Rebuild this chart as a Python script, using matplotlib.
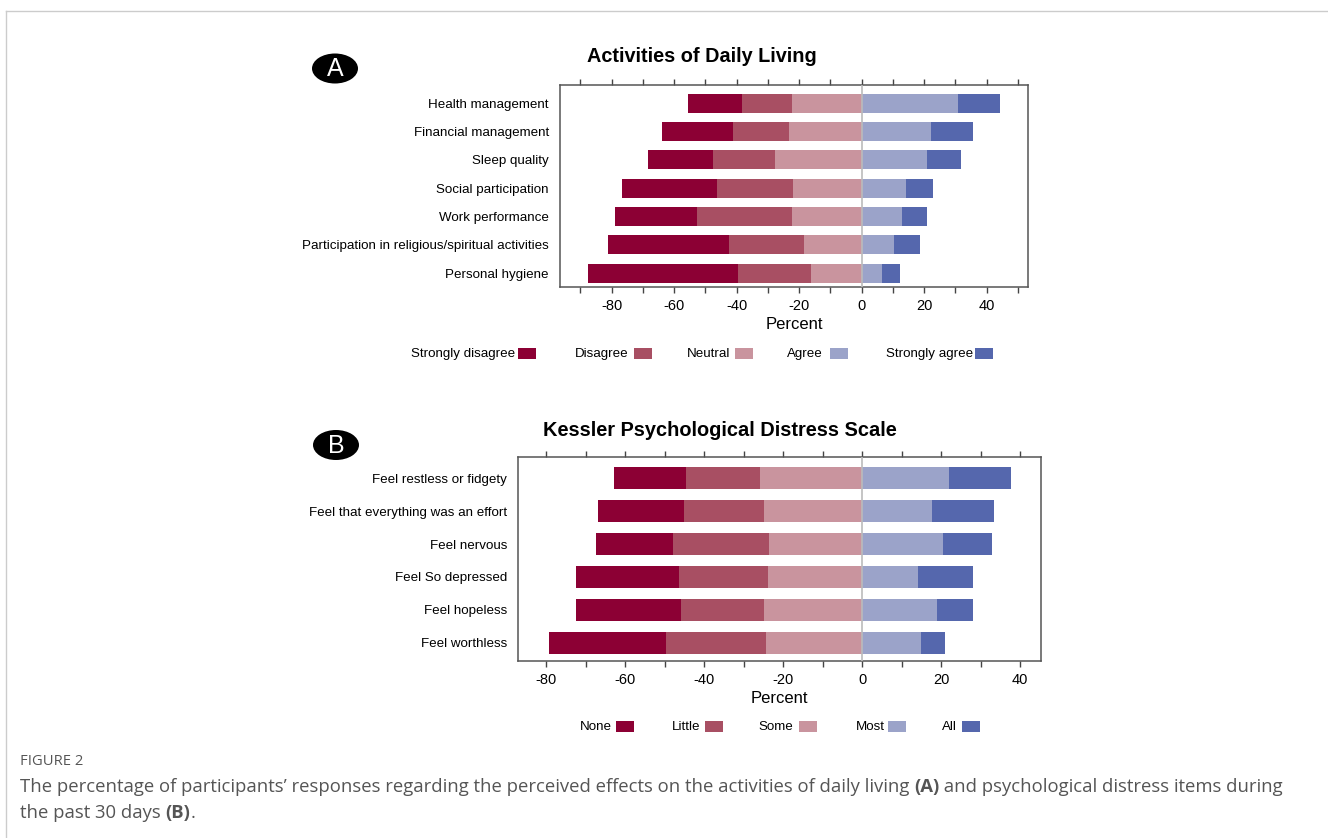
import matplotlib
matplotlib.use("Agg")
import matplotlib.pyplot as plt
from matplotlib.patches import Ellipse, Rectangle
from matplotlib.lines import Line2D
import numpy as np

plt.rcParams['font.family'] = ['Liberation Sans', 'DejaVu Sans']

# ---------------- data ----------------
adl_items = ["Health management", "Financial management", "Sleep quality",
             "Social participation", "Work performance",
             "Participation in religious/spiritual activities", "Personal hygiene"]
adl_levels = ["Strongly disagree", "Disagree", "Neutral", "Agree", "Strongly agree"]
adl_strongly_disagree = [17.3, 22.7, 20.7, 30.2, 26.2, 39.0, 47.8]
adl_disagree          = [16.0, 18.0, 19.9, 24.5, 30.6, 23.8, 23.5]
adl_neutral           = [22.2, 23.3, 27.6, 21.9, 22.2, 18.5, 16.2]
adl_agree             = [30.7, 22.2, 20.9, 14.1, 13.0, 10.3, 6.6]
adl_strongly_agree    = [13.6, 13.5, 10.9, 8.7, 7.9, 8.2, 5.8]

k_items = ["Feel restless or fidgety", "Feel that everything was an effort",
           "Feel nervous", "Feel So depressed", "Feel hopeless", "Feel worthless"]
k_levels = ["None", "Little", "Some", "Most", "All"]
k_none   = [18.3, 21.9, 19.5, 25.9, 26.5, 29.7]
k_little = [18.7, 20.2, 24.3, 22.5, 21.0, 25.4]
k_some   = [25.8, 24.8, 23.6, 23.9, 24.8, 24.2]
k_most   = [21.9, 17.6, 20.5, 14.1, 19.0, 14.8]
k_all    = [15.7, 15.9, 12.5, 14.0, 9.1, 6.2]

colors = ["#8C0034", "#A84F63", "#C9949E", "#9BA3C9", "#5567AD"]

W, H = 1328, 838
fig = plt.figure(figsize=(W / 100, H / 100), dpi=100)
renderer = fig.canvas.get_renderer()

LBL = 9.6   # label font size


def px_axes(left, top, right, bottom):
    return fig.add_axes([left / W, 1 - bottom / H, (right - left) / W, (bottom - top) / H])


def likert(ax, items, neg, pos, xlim, ticks, ylim):
    y = np.arange(len(items))
    h = 0.67
    n_sd, n_d, n_n = [np.array(v) for v in neg]
    ax.barh(y, -n_n, left=0, height=h, color=colors[2], linewidth=0)
    ax.barh(y, -n_d, left=-n_n, height=h, color=colors[1], linewidth=0)
    ax.barh(y, -n_sd, left=-(n_n + n_d), height=h, color=colors[0], linewidth=0)
    p_a, p_sa = [np.array(v) for v in pos]
    ax.barh(y, p_a, left=0, height=h, color=colors[3], linewidth=0)
    ax.barh(y, p_sa, left=p_a, height=h, color=colors[4], linewidth=0)
    ax.axvline(0, color="#bbbbbb", lw=1.2, zorder=3)
    ax.set_xlim(*xlim)
    ax.set_ylim(*ylim)
    ax.set_yticks(y)
    ax.set_yticklabels(items, fontsize=LBL)
    ax.tick_params(axis="y", length=0, pad=8)
    ax.set_xticks(ticks)
    ax.set_xticklabels([str(t) if t % 20 == 0 else "" for t in ticks], fontsize=10.5)
    ax.tick_params(axis="x", direction="out", length=4.5, width=1, color="#444444",
                   top=True, bottom=True, labeltop=False, pad=4)
    for s in ax.spines.values():
        s.set_color("#555555")
        s.set_linewidth(1.1)
    ax.set_xlabel("Percent", fontsize=12, labelpad=3)


def fit_text(x, y, s, target_w, size, **kw):
    t = fig.text(x, y, s, fontsize=size, **kw)
    w = t.get_window_extent(renderer).width
    t.set_fontsize(size * target_w / w)
    return t


# ---------- Panel A ----------
axA = px_axes(560, 85, 1028, 287)
likert(axA, adl_items,
       (adl_strongly_disagree, adl_disagree, adl_neutral),
       (adl_agree, adl_strongly_agree),
       (-96.5, 53.2), list(range(-90, 51, 10)), (6.49, -0.64))
fit_text(702 / W, 1 - 56 / H, "Activities of Daily Living", 230, 14,
         fontweight="bold", ha="center", va="center")

# ---------- Panel B ----------
axB = px_axes(518, 457, 1041, 661)
likert(axB, k_items,
       (k_none, k_little, k_some),
       (k_most, k_all),
       (-87.1, 45.3), list(range(-80, 41, 10)), (5.55, -0.64))
fit_text(719.5 / W, 1 - 430 / H, "Kessler Psychological Distress Scale", 355, 14,
         fontweight="bold", ha="center", va="center")


# ---------- legends (manual, text left of swatch) ----------
def legend_row(y, entries):
    for label, text_right, sq_left, col in entries:
        fig.text(text_right / W, 1 - y / H, label, ha="right", va="center", fontsize=LBL)
        fig.patches.append(Rectangle((sq_left / W, 1 - (y + 5) / H), 18 / W, 11 / H,
                                     transform=fig.transFigure, facecolor=col,
                                     edgecolor="none"))


legend_row(354, [("Strongly disagree", 515, 518, colors[0]),
                 ("Disagree", 628, 634, colors[1]),
                 ("Neutral", 730, 735, colors[2]),
                 ("Agree", 823, 830, colors[3]),
                 ("Strongly agree", 973, 975, colors[4])])
legend_row(727, [("None", 612, 616, colors[0]),
                 ("Little", 700, 705, colors[1]),
                 ("Some", 793, 799, colors[2]),
                 ("Most", 885, 888, colors[3]),
                 ("All", 957, 962, colors[4])])

# ---------- panel letters ----------
for cx, cy, letter in [(335, 68.5, "A"), (336, 445, "B")]:
    fig.patches.append(Ellipse((cx / W, 1 - cy / H), 46 / W, 30 / H,
                               transform=fig.transFigure, facecolor="black",
                               edgecolor="none"))
    fig.text(cx / W, 1 - (cy + 0.5) / H, letter, color="white", ha="center",
             va="center", fontsize=18)

# ---------- page frame ----------
fig.add_artist(Line2D([6 / W, 6 / W], [0, 1 - 11 / H], transform=fig.transFigure,
                      color="#cccccc", lw=1))
fig.add_artist(Line2D([6 / W, 1], [1 - 11 / H, 1 - 11 / H], transform=fig.transFigure,
                      color="#cccccc", lw=1))

# ---------- caption ----------
cap_color = "#555555"
cap_font = ["Open Sans", "DejaVu Sans"]
CAP_X = 20
fit_text(CAP_X / W, 1 - 761 / H, "FIGURE 2", 63, 10, color=cap_color,
         family=cap_font, va="center")


def rich_line(x, y, parts, size):
    for txt, bold in parts:
        t = fig.text(x / W, 1 - y / H, txt, color=cap_color, fontsize=size,
                     family=cap_font, fontweight="bold" if bold else "normal",
                     va="center")
        x += t.get_window_extent(renderer).width


line1 = [("The percentage of participants\u2019 responses regarding the perceived effects on the activities of daily living ", False),
         ("(A)", True),
         (" and psychological distress items during", False)]
line2 = [("the past 30 days ", False), ("(B)", True), (".", False)]

probe_w = 0
for txt, bold in line1:
    t = fig.text(0, 0, txt, fontsize=10, family=cap_font,
                 fontweight="bold" if bold else "normal")
    probe_w += t.get_window_extent(renderer).width
    t.remove()
cap_size = 10 * (1282 - CAP_X) / probe_w

rich_line(CAP_X, 787, line1, cap_size)
rich_line(CAP_X, 813, line2, cap_size)

fig.savefig("out.png", dpi=100)
